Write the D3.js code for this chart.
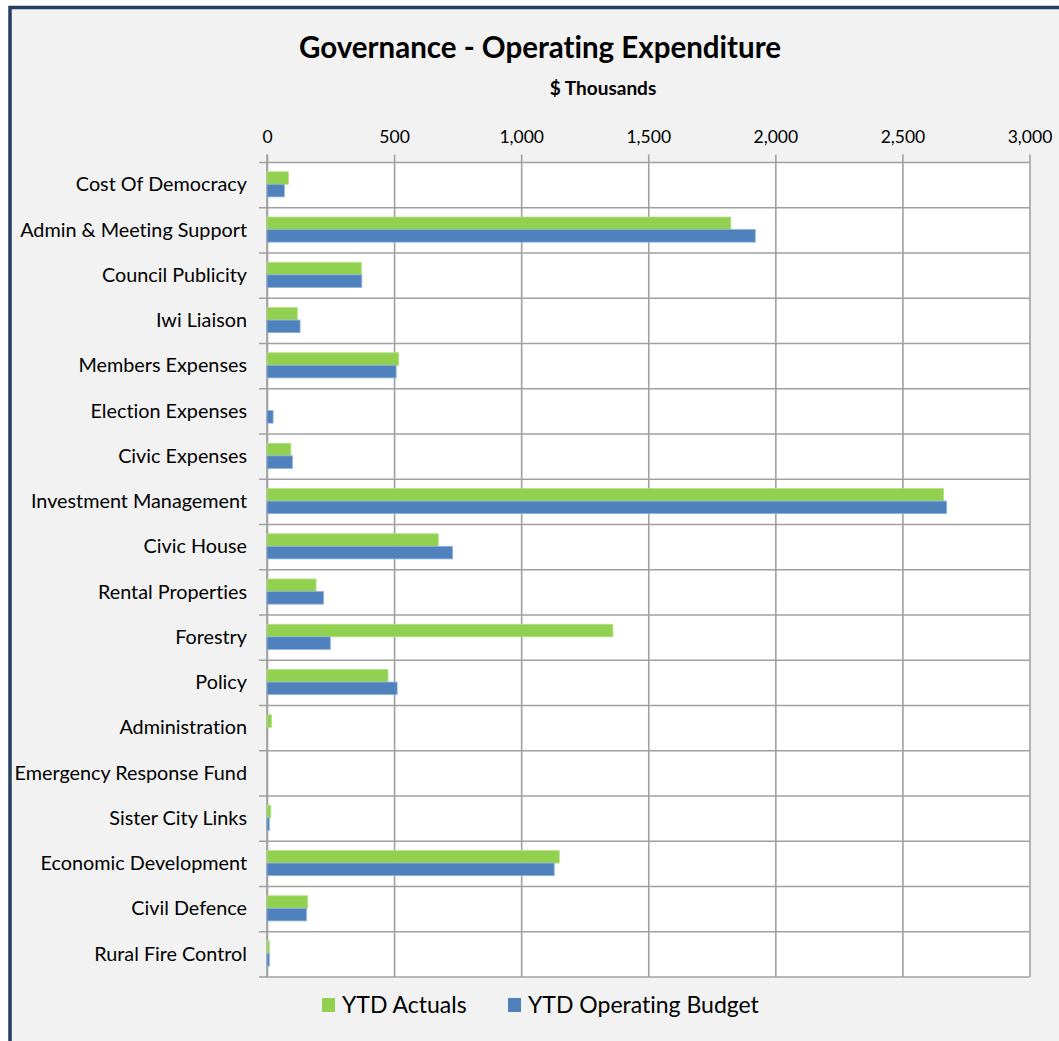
<!DOCTYPE html>
<html>
<head>
<meta charset="utf-8">
<script src="https://cdn.jsdelivr.net/npm/d3@7"></script>
<style>
  body { margin: 0; background: #fff; }
  text { font-family: Lato, "Noto Sans", sans-serif; fill: #000; font-variant-ligatures: none; }
</style>
</head>
<body>
<script>
var categories = ['Cost Of Democracy', 'Admin & Meeting Support', 'Council Publicity', 'Iwi Liaison',
    'Members Expenses', 'Election Expenses', 'Civic Expenses', 'Investment Management', 'Civic House',
    'Rental Properties', 'Forestry', 'Policy', 'Administration', 'Emergency Response Fund',
    'Sister City Links', 'Economic Development', 'Civil Defence', 'Rural Fire Control'];
var ytdActuals = [84, 1825, 371, 119, 518, 0, 94, 2662, 674, 193, 1361, 476, 18, 0, 15, 1150, 160, 9];
var ytdBudget  = [68, 1921, 373, 130, 508, 24, 100, 2674, 730, 222, 249, 512, 0, 0, 9, 1130, 155, 9];
var xTicks = [0, 500, 1000, 1500, 2000, 2500, 3000];
var seriesNames = ['YTD Actuals', 'YTD Operating Budget'];
var seriesColors = ['#92D050', '#4F81BD'];
var seriesStroke = ['#B5E08A', '#8DB1DC'];

var width = 1059,
    height = 1041,
    plot = {left: 267, top: 162.5, right: 1029.5, bottom: 977};

var svg = d3.select('body').append('svg')
    .attr('width', width)
    .attr('height', height);

// frame
svg.append('rect').attr('x', 0).attr('y', 0).attr('width', width).attr('height', height).attr('fill', '#fff');
svg.append('rect').attr('x', 10).attr('y', 7.5).attr('width', width + 20).attr('height', height + 20)
    .attr('fill', '#F2F2F2').attr('stroke', '#243F60').attr('stroke-width', 3.5);

var x = d3.scaleLinear().domain([0, 3000]).range([plot.left, plot.right]);
var y = d3.scaleBand().domain(categories).range([plot.top, plot.bottom]).padding(0);
var ySeries = d3.scaleBand().domain(seriesNames).range([0, y.bandwidth()]).paddingInner(0).paddingOuter(0.8);

svg.append('rect')
    .attr('x', plot.left).attr('y', plot.top)
    .attr('width', plot.right - plot.left).attr('height', plot.bottom - plot.top)
    .attr('fill', '#fff');

// vertical grid + top axis
var axisX = d3.axisTop(x).tickValues(xTicks).tickSize(8).tickPadding(12)
    .tickFormat(d3.format(','));
var gx = svg.append('g')
    .attr('transform', 'translate(0,' + plot.top + ')')
    .call(axisX);
gx.select('.domain').remove();
gx.selectAll('.tick line').attr('stroke', '#A0A0A0').attr('stroke-width', 1.6)
    .attr('y2', -8).clone().attr('y1', 0).attr('y2', plot.bottom - plot.top);
gx.selectAll('.tick text').style('font-size', '17.5px').attr('fill', '#000');

// row separators + left axis
var rowEdges = categories.map(function(c) { return y(c); }).concat([plot.bottom]);
svg.append('g').selectAll('line').data(rowEdges).enter().append('line')
    .attr('x1', plot.left - 8).attr('x2', plot.right)
    .attr('y1', function(d) { return d; }).attr('y2', function(d) { return d; })
    .attr('stroke', '#A0A0A0').attr('stroke-width', 1.6);

svg.append('line')
    .attr('x1', plot.left).attr('x2', plot.left)
    .attr('y1', plot.top - 8).attr('y2', plot.bottom)
    .attr('stroke', '#A0A0A0').attr('stroke-width', 1.6);

var axisY = d3.axisLeft(y).tickSize(0).tickPadding(20);
var gy = svg.append('g').attr('transform', 'translate(' + plot.left + ',0)').call(axisY);
gy.select('.domain').remove();
gy.selectAll('.tick text').style('font-size', '19.8px').attr('fill', '#000');

// bars
var rows = categories.map(function(c, i) {
    return {cat: c, vals: [ytdActuals[i], ytdBudget[i]]};
});
var groups = svg.append('g').selectAll('g').data(rows).enter().append('g')
    .attr('transform', function(d) { return 'translate(0,' + y(d.cat) + ')'; });
groups.selectAll('rect')
    .data(function(d) { return d.vals.map(function(v, j) { return {v: v, j: j}; }); })
    .enter().append('rect')
    .filter(function(d) { return d.v > 0; })
    .attr('x', x(0))
    .attr('y', function(d) { return ySeries(seriesNames[d.j]) - 0.8; })
    .attr('width', function(d) { return x(d.v) - x(0); })
    .attr('height', ySeries.bandwidth())
    .attr('fill', function(d) { return seriesColors[d.j]; })
    .attr('stroke', function(d) { return seriesStroke[d.j]; })
    .attr('stroke-width', 0.8);

// titles
svg.append('text').attr('x', 540).attr('y', 58).attr('text-anchor', 'middle')
    .style('font-size', '29.5px').style('font-weight', 'bold')
    .text('Governance - Operating Expenditure');
svg.append('text').attr('x', 603).attr('y', 95).attr('text-anchor', 'middle')
    .style('font-size', '19px').style('font-weight', 'bold')
    .text('$ Thousands');

// legend
var legendX = [322, 508];
var legend = svg.append('g').selectAll('g').data(seriesNames).enter().append('g')
    .attr('transform', function(d, i) { return 'translate(' + legendX[i] + ',998)'; });
legend.append('rect').attr('width', 13).attr('height', 14)
    .attr('fill', function(d, i) { return seriesColors[i]; });
legend.append('text').attr('x', 20).attr('y', 15)
    .style('font-size', '23px')
    .text(function(d) { return d; });
</script>
</body>
</html>
